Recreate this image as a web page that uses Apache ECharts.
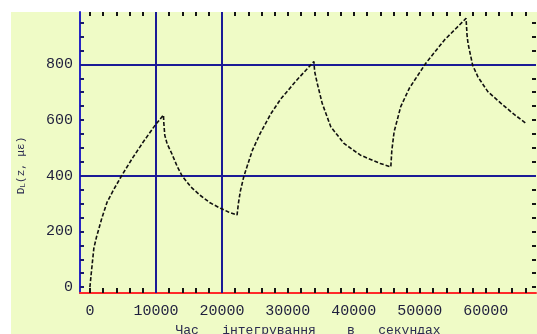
<!DOCTYPE html>
<html>
<head>
<meta charset="utf-8">
<script src="https://cdn.jsdelivr.net/npm/echarts@6/dist/echarts.min.js"></script>
<style>
  html, body { margin: 0; padding: 0; background: #ffffff; }
  #chart { width: 537px; height: 334px; }
</style>
</head>
<body>
<div id="chart"></div>
<script>
// Integration time (s) and the computed response D_L(z, με)
const timeSec = [0, 250, 600, 1000, 1800, 2600, 3600, 4800, 6500, 8100, 9900, 11150,
  11200, 11350, 11700, 12400, 13200, 13950, 15300, 16700, 18200, 19800, 21000, 22300,
  22500, 22800, 23300, 23700, 24600, 25800, 27400, 28900, 31400, 33950,
  34050, 34450, 35200, 36500, 38500, 41000, 44000, 45600,
  45750, 46100, 47100, 48400, 50900, 53700, 57000,
  57150, 57300, 58000, 58800, 60300, 62300, 64200, 66100];
const strain = [0, 60, 140, 180, 247, 305, 350, 400, 465, 522, 582, 618,
  590, 545, 515, 480, 435, 400, 360, 330, 303, 283, 270, 259,
  300, 345, 395, 425, 490, 552, 622, 675, 745, 810,
  775, 732, 660, 576, 516, 474, 444, 432,
  490, 558, 648, 714, 804, 887, 965,
  905, 875, 797, 755, 702, 660, 622, 588];

// Axis labels and reference lines
const xLabels = [0, 10000, 20000, 30000, 40000, 50000, 60000];
const yLabels = [0, 200, 400, 600, 800];
const gridX = [10000, 20000];
const gridY = [400, 800];

// Tick positions: every 2000 s along x, every 50 along y
const xTicks = [];
for (let v = 0; v <= 66000; v += 2000) xTicks.push(v);
const yTicks = [];
for (let v = 0; v <= 950; v += 50) yTicks.push(v);

const X_MIN = -1500, X_MAX = 67600;
const Y_MIN = -21, Y_MAX = 988;

const clearLine = { show: true, onZero: false, lineStyle: { color: 'rgba(0,0,0,0)', width: 0 } };

function labelStyle(margin, values) {
  return {
    show: true, margin: margin, customValues: values,
    fontFamily: 'Liberation Mono', fontSize: 15, color: '#1e1e3c',
    formatter: v => String(v)
  };
}
function frameTicks(len, color, values) {
  return {
    show: true, inside: true, length: len, customValues: values,
    lineStyle: { color: color, width: 2 }
  };
}

const chart = echarts.init(document.getElementById('chart'), null, { renderer: 'canvas' });

const pairs = timeSec.map((t, i) => [t, strain[i]]);
const guides = gridX.map(v => ({ xAxis: v })).concat(gridY.map(v => ({ yAxis: v })));

chart.setOption({
  animation: false,
  backgroundColor: '#ffffff',
  graphic: [{
    type: 'rect', left: 11, top: 12, z: -100, silent: true,
    shape: { width: 526, height: 322 },
    style: { fill: '#effbc6' }
  }],
  // fixed plot rectangle; labels and names are allowed to sit outside it
  grid: {
    left: 80, right: 1, top: 12, bottom: 41,
    containLabel: false, outerBoundsMode: 'none'
  },
  xAxis: [{
    type: 'value', position: 'bottom', min: X_MIN, max: X_MAX,
    axisLine: { show: true, onZero: false, lineStyle: { color: '#ff2a2a', width: 2 } },
    axisTick: frameTicks(5, '#151515', xTicks),
    axisLabel: labelStyle(11, xLabels),
    splitLine: { show: false },
    name: 'Час   інтегрування    в   секундах',
    nameLocation: 'middle', nameGap: 22,
    nameTextStyle: { fontFamily: 'Liberation Mono', fontSize: 13, color: '#2a2a50' }
  }, {
    type: 'value', position: 'top', min: X_MIN, max: X_MAX,
    axisLine: clearLine,
    axisTick: frameTicks(4, '#151515', xTicks),
    axisLabel: { show: false },
    splitLine: { show: false }
  }],
  yAxis: [{
    type: 'value', position: 'left', min: Y_MIN, max: Y_MAX,
    axisLine: { show: true, onZero: false, lineStyle: { color: '#2626c4', width: 2 } },
    axisTick: frameTicks(4, '#1a1a70', yTicks),
    axisLabel: labelStyle(7, yLabels),
    splitLine: { show: false },
    name: '{m|D}{s|L}{m|(z, με)}',
    nameLocation: 'middle', nameRotate: 90, nameGap: 53,
    nameTextStyle: {
      padding: [0, 26, 0, 0],
      rich: {
        m: { fontFamily: 'Liberation Mono', fontSize: 11, color: '#2a2a50' },
        s: { fontFamily: 'Liberation Mono', fontSize: 8, color: '#2a2a50', verticalAlign: 'bottom' }
      }
    }
  }, {
    type: 'value', position: 'right', min: Y_MIN, max: Y_MAX,
    axisLine: clearLine,
    axisTick: frameTicks(4, '#151515', yTicks),
    axisLabel: { show: false },
    splitLine: { show: false }
  }],
  series: [{
    type: 'line',
    xAxisIndex: 0, yAxisIndex: 0,
    data: pairs,
    showSymbol: false,
    smooth: false,
    lineStyle: { color: '#111111', width: 1.6, type: [4, 2] },
    z: 3,
    markLine: {
      silent: true,
      symbol: ['none', 'none'],
      label: { show: false },
      lineStyle: { color: '#1a1a96', width: 2, type: 'solid' },
      data: guides,
      z: 2
    }
  }]
});
</script>
</body>
</html>
